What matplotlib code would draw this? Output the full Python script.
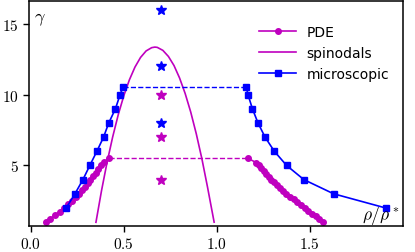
import numpy as np
import matplotlib.pyplot as plt

plt.rcParams['mathtext.fontset'] = 'cm'

# PDE branches (rho/rho*, gamma)
pde_left_rho = [0.079, 0.105, 0.130, 0.155, 0.180, 0.201, 0.221, 0.240, 0.257, 0.273,
                0.289, 0.305, 0.320, 0.334, 0.348, 0.362, 0.376, 0.396, 0.419]
pde_left_gamma = [1.0, 1.25, 1.5, 1.75, 2.0, 2.25, 2.5, 2.75, 3.0, 3.25,
                  3.5, 3.75, 4.0, 4.25, 4.5, 4.75, 5.0, 5.25, 5.5]
pde_right_rho = [1.168, 1.213, 1.226, 1.239, 1.253, 1.267, 1.280, 1.294, 1.310, 1.326,
                 1.342, 1.358, 1.375, 1.394, 1.414, 1.433, 1.453, 1.473, 1.493, 1.513,
                 1.533, 1.553, 1.574]
pde_right_gamma = [5.5, 5.2, 5.0, 4.8, 4.6, 4.4, 4.2, 4.0, 3.8, 3.6,
                   3.4, 3.2, 3.0, 2.8, 2.6, 2.4, 2.2, 2.0, 1.8, 1.6,
                   1.4, 1.2, 1.0]

# spinodal curve
spin_rho = [0.35, 0.38, 0.41, 0.44, 0.47, 0.50, 0.53, 0.56, 0.59, 0.62, 0.65, 0.667,
            0.68, 0.71, 0.74, 0.77, 0.80, 0.83, 0.86, 0.89, 0.92, 0.95, 0.986]
spin_gamma = [0.99, 3.22, 5.23, 7.01, 8.58, 9.92, 11.04, 11.94, 12.62, 13.08, 13.31, 13.35,
              13.33, 13.12, 12.69, 12.05, 11.17, 10.08, 8.77, 7.23, 5.48, 3.50, 1.0]

# microscopic branches
mic_left_rho = [0.190, 0.237, 0.280, 0.317, 0.355, 0.391, 0.419, 0.455, 0.480, 0.495]
mic_left_gamma = [2, 3, 4, 5, 6, 7, 8, 9, 10, 10.5]
mic_right_rho = [1.160, 1.168, 1.192, 1.222, 1.260, 1.310, 1.376, 1.469, 1.629, 1.909]
mic_right_gamma = [10.5, 10, 9, 8, 7, 6, 5, 4, 3, 2]

# single runs at rho = 0.7
star_rho = 0.7
star_blue = [16, 12, 8]
star_mag = [10, 7, 4]

fig = plt.figure(figsize=(4.15, 2.53), dpi=100)
ax = fig.add_axes([0.070, 0.104, 0.900, 0.888])

ax.plot(pde_left_rho, pde_left_gamma, '-o', color='m', ms=4, lw=1.2, label='PDE')
ax.plot(pde_right_rho, pde_right_gamma, '-o', color='m', ms=4, lw=1.2)
ax.plot([pde_left_rho[-1], pde_right_rho[0]], [pde_left_gamma[-1], pde_right_gamma[0]],
        '--', color='m', lw=1)
ax.plot(spin_rho, spin_gamma, '-', color='m', lw=1.2, label='spinodals')

ax.plot(mic_left_rho, mic_left_gamma, '-s', color='b', ms=4, lw=1.2, label='microscopic')
ax.plot(mic_right_rho, mic_right_gamma, '-s', color='b', ms=4, lw=1.2)
ax.plot([mic_left_rho[-1], mic_right_rho[0]], [mic_left_gamma[-1], mic_right_gamma[0]],
        '--', color='b', lw=1)

ax.plot([star_rho] * 3, star_blue, '*', color='b', ms=7, ls='none')
ax.plot([star_rho] * 3, star_mag, '*', color='m', ms=7, ls='none')

ax.set_xlim(-0.01, 2.0)
ax.set_ylim(0.75, 16.6)
ax.set_xticks([0.0, 0.5, 1.0, 1.5])
ax.set_yticks([5, 10, 15])
ax.set_xticklabels([r'$0.0$', r'$0.5$', r'$1.0$', r'$1.5$'])
ax.set_yticklabels([r'$5$', r'$10$', r'$15$'])
ax.tick_params(labelsize=11, length=4, width=1, direction='out')
for s in ax.spines.values():
    s.set_linewidth(1.1)

ax.text(0.012, 0.965, r'$\gamma$', transform=ax.transAxes, fontsize=13, va='top', ha='left')
ax.text(0.992, 0.0, r'$\rho/\rho^*$', transform=ax.transAxes, fontsize=12.5, va='bottom', ha='right')

ax.legend(loc='upper right', frameon=False, fontsize=10, handlelength=2.6,
          bbox_to_anchor=(0.998, 0.95))

fig.savefig('out.png', dpi=100)
